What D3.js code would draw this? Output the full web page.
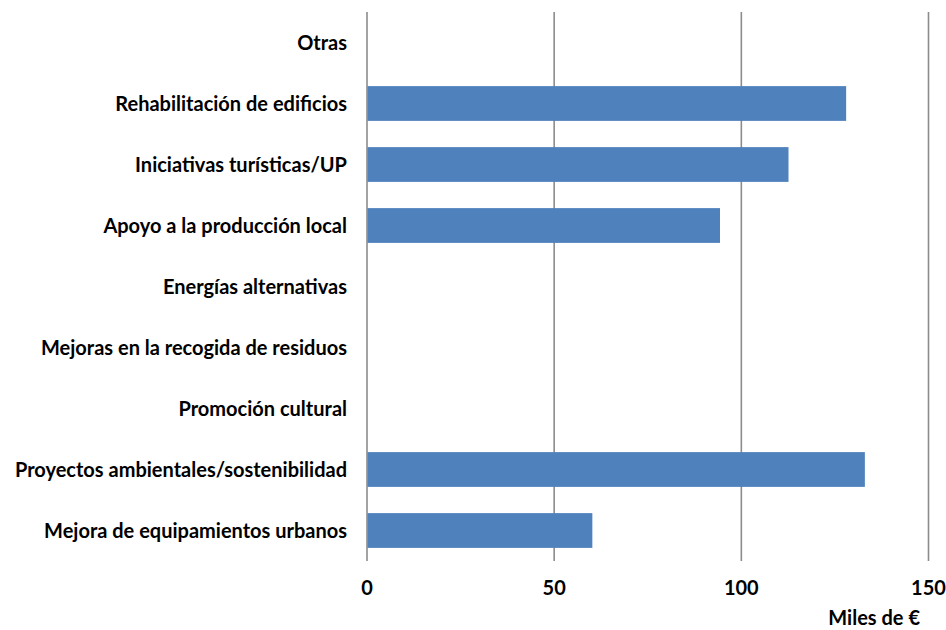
<!DOCTYPE html>
<html>
<head>
<meta charset="utf-8">
<script src="https://cdn.jsdelivr.net/npm/d3@7"></script>
<style>
  html, body { margin: 0; padding: 0; background: #ffffff; }
  svg { display: block; }
  text { font-family: Lato, "Open Sans", sans-serif; font-weight: bold; fill: #000; }
</style>
</head>
<body>
<svg id="chart" width="946" height="630"></svg>
<script>
const categories = [
  "Otras",
  "Rehabilitación de edificios",
  "Iniciativas turísticas/UP",
  "Apoyo a la producción local",
  "Energías alternativas",
  "Mejoras en la recogida de residuos",
  "Promoción cultural",
  "Proyectos ambientales/sostenibilidad",
  "Mejora de equipamientos urbanos"
];
const values = [0, 128, 112.6, 94.3, 0, 0, 0, 133, 60.2];
const xTicks = [0, 50, 100, 150];
const axisTitle = "Miles de €";

const svg = d3.select("#chart");
const x = d3.scaleLinear().domain([0, 150]).range([367, 928.5]);
const y = d3.scaleBand().domain(categories).range([12, 561]).paddingInner(0.43).paddingOuter(0.215);

// gridlines
svg.append("g").selectAll("line").data(xTicks).join("line")
  .attr("x1", d => x(d)).attr("x2", d => x(d))
  .attr("y1", 12).attr("y2", 561)
  .attr("stroke", "#8c8c8c").attr("stroke-width", 1.6);

// bars
svg.append("g").selectAll("rect").data(categories.map((c, i) => ({c, v: values[i]})).filter(d => d.v > 0)).join("rect")
  .attr("x", x(0) + 0.5)
  .attr("y", d => y(d.c))
  .attr("width", d => x(d.v) - x(0) - 0.5)
  .attr("height", y.bandwidth())
  .attr("fill", "#4f81bd");

// category labels
svg.append("g").selectAll("text").data(categories).join("text")
  .attr("x", 347)
  .attr("y", d => y(d) + y.bandwidth() / 2)
  .attr("dy", "0.35em")
  .attr("text-anchor", "end")
  .attr("font-size", 20)
  .text(d => d);

// x tick labels
svg.append("g").selectAll("text").data(xTicks).join("text")
  .attr("x", d => x(d))
  .attr("y", 588)
  .attr("dy", "0.35em")
  .attr("text-anchor", "middle")
  .attr("font-size", 20)
  .text(d => d);

// axis title
svg.append("text")
  .attr("x", 920)
  .attr("y", 618)
  .attr("dy", "0.35em")
  .attr("text-anchor", "end")
  .attr("font-size", 20)
  .text(axisTitle);
</script>
</body>
</html>
